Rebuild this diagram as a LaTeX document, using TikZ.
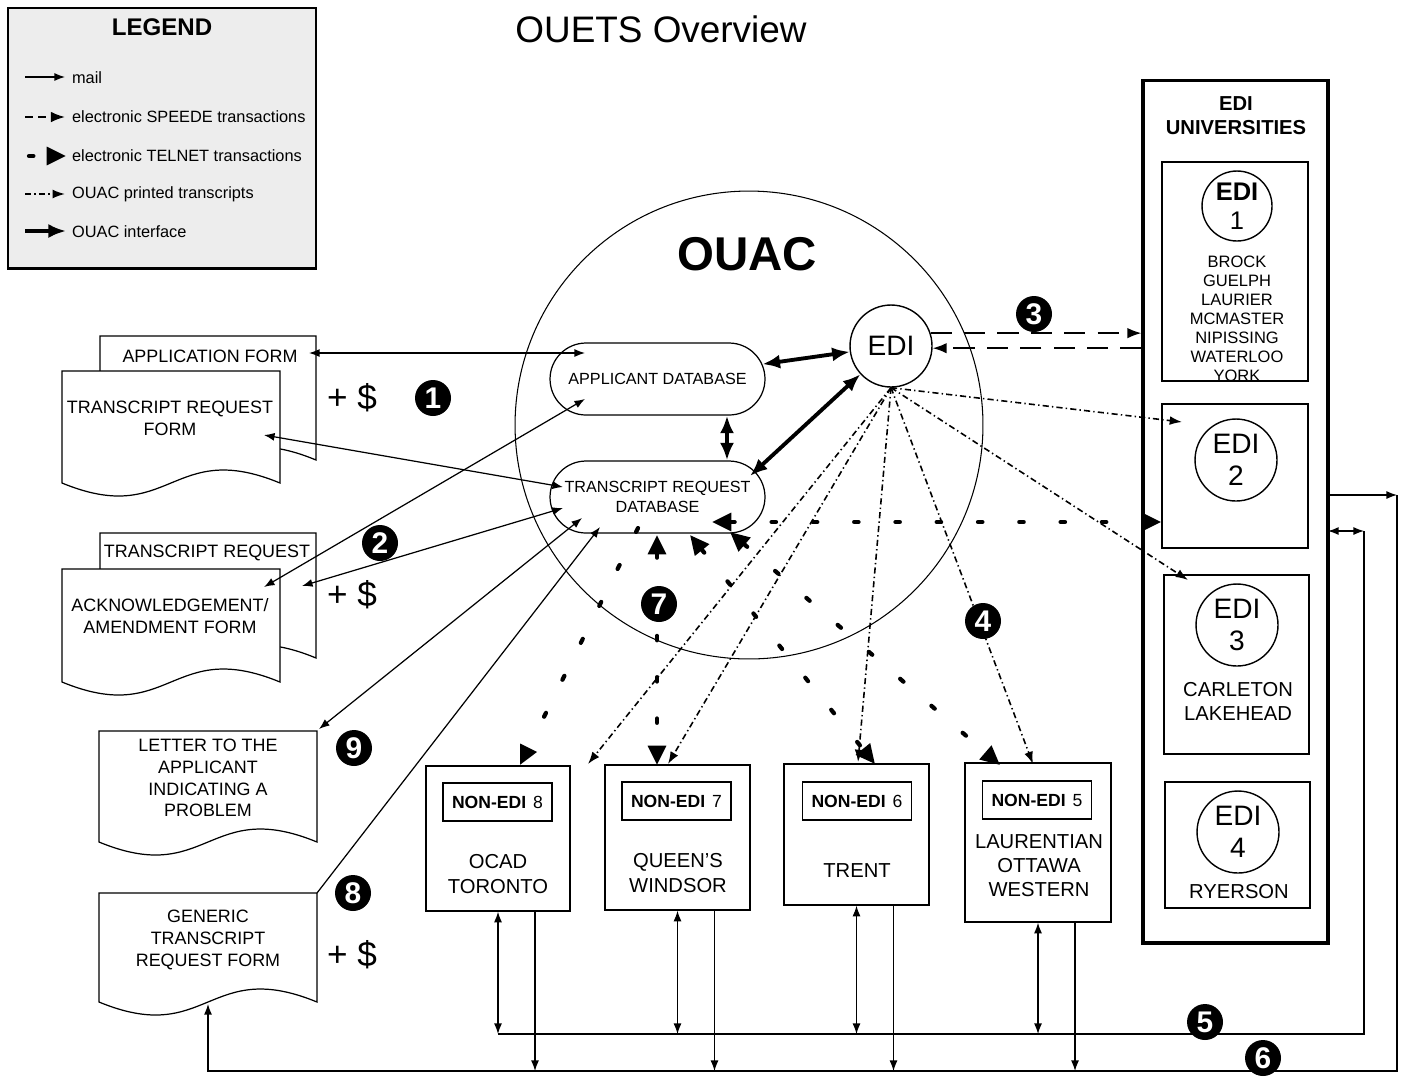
\documentclass[tikz,border=0pt]{standalone}
\usepackage{fontspec}
\setmainfont{Liberation Sans}
\usetikzlibrary{arrows.meta,shapes.misc}
\tikzset{>={Latex[length=6pt,width=4.5pt]}}
\tikzset{
  mail/.style={line width=0.7pt, >={Latex[length=6pt,width=4.5pt]}},
  speede/.style={line width=1pt, dash pattern=on 12pt off 7pt, >={Latex[length=8pt,width=6pt]}},
  telnet/.style={line width=2.4pt, line cap=round, dash pattern=on 2.5pt off 21pt, >={Triangle[length=11pt,width=10pt]}},
  printed/.style={line width=0.9pt, dash pattern=on 3.5pt off 1.8pt on 0.8pt off 1.8pt, >={Latex[length=7pt,width=5pt]}},
  iface/.style={line width=2.2pt, >={Latex[length=10pt,width=8pt]}},
  docpage/.style={draw=black, fill=white, line width=0.7pt},
  doctext/.style={font=\fontsize{10.2}{12.4}\selectfont, align=center},
  legtext/.style={anchor=west, inner sep=1pt, font=\fontsize{9.3}{11}\selectfont},
  db/.style={draw, rounded rectangle, minimum width=4.3cm, minimum height=1.44cm, inner sep=0pt,
    line width=0.7pt, fill=white, align=center, font=\fontsize{9.2}{11.4}\selectfont},
  unibox/.style={draw, line width=0.8pt, inner sep=0pt},
  educirc/.style={draw, circle, inner sep=0pt, line width=0.8pt, align=center, minimum size=1.64cm,
    font=\fontsize{16}{18}\selectfont},
  unitext/.style={align=center, font=\fontsize{11.5}{13.7}\selectfont},
  nebox/.style={draw, line width=0.8pt, inner sep=0pt},
  nelabel/.style={draw, line width=0.8pt, minimum width=2.18cm, minimum height=0.76cm, inner sep=0pt,
    font=\fontsize{10}{12}\selectfont},
  numcirc/.style={circle, fill=black, text=white, inner sep=0pt, minimum size=0.72cm,
    font=\bfseries\fontsize{17}{17}\selectfont},
  dollar/.style={font=\fontsize{20}{20}\selectfont}
}
% left, top, right, bottom of a page with a wavy foot
\newcommand{\docpage}[4]{%
  \filldraw[docpage] (#1,#2) -- (#3,#2) -- (#3,#4)
    .. controls ({(#1+#3)/2},{#4-45}) and ({(#1+#3)/2},{#4+45}) .. (#1,#4) -- cycle;}

\begin{document}
\begin{tikzpicture}[x=0.02cm, y=-0.02cm]
\useasboundingbox (0,0) rectangle (1408,1076);

% legend
\draw[line width=1.7pt, fill=black!7] (8,8) rectangle (316,268);
\node[font=\bfseries\fontsize{13.7}{16}\selectfont] (legend) at (162,27) {LEGEND};
\draw[mail,->] (25,77) -- (65,77);
\draw[speede,dash pattern=on 4.5pt off 3pt,->] (25,117) -- (65,117);
\draw[telnet,->] (29,156) -- (66,156);
\draw[printed,->] (25,194) -- (65,194);
\draw[iface,->] (25,231) -- (66,231);
\node[legtext] at (70,78) {mail};
\node[legtext] at (70,117) {electronic SPEEDE transactions};
\node[legtext] at (70,156) {electronic TELNET transactions};
\node[legtext] at (70,194) {OUAC printed transcripts};
\node[legtext] at (70,232) {OUAC interface};

\node[font=\fontsize{21}{24}\selectfont] (title) at (661,29) {OUETS Overview};

% OUAC
\node[draw, circle, line width=0.6pt, minimum size=9.36cm, inner sep=0pt] (ouac) at (749,425) {};
\node[font=\bfseries\fontsize{27}{30}\selectfont] (ouaclabel) at (747,254) {OUAC};
\node[db] (adb) at (657.5,379) {APPLICANT DATABASE};
\node[db] (trdb) at (657.5,497) {TRANSCRIPT REQUEST\\DATABASE};
\node[draw, circle, minimum size=1.64cm, inner sep=0pt, line width=0.8pt, fill=white,
  font=\fontsize{16}{16}\selectfont] (edi) at (891,346) {EDI};

% EDI universities
\node[draw, line width=1.8pt, minimum width=3.7cm, minimum height=17.26cm, inner sep=0pt] (ediuni) at (1235.5,511.5) {};
\node[font=\bfseries\fontsize{11.5}{13.7}\selectfont, align=center] (unititle) at (1236,116) {EDI\\UNIVERSITIES};
\node[unibox, minimum width=2.92cm, minimum height=4.38cm] (box1) at (1235,271.5) {};
\node[unibox, minimum width=2.92cm, minimum height=2.88cm] (box2) at (1235,476) {};
\node[unibox, minimum width=2.9cm, minimum height=3.58cm] (box3) at (1236.5,664.5) {};
\node[unibox, minimum width=2.9cm, minimum height=2.52cm] (box4) at (1237.5,845) {};
\node[educirc, minimum size=1.4cm, font=\fontsize{14.5}{16.5}\selectfont] (edi1) at (1237,206) {\textbf{EDI}\\1};
\node[educirc] (edi2) at (1236,460) {EDI\\2};
\node[educirc] (edi3) at (1237,625) {EDI\\3};
\node[educirc] (edi4) at (1238,832) {EDI\\4};
\begin{scope}
  \clip (box1.south west) rectangle (box1.north east);
  \node[align=center, font=\fontsize{9.4}{10.8}\selectfont] (list1) at (1237,319)
    {BROCK\\GUELPH\\LAURIER\\MCMASTER\\NIPISSING\\WATERLOO\\YORK};
\end{scope}
\node[unitext] (list3) at (1238,701) {CARLETON\\LAKEHEAD};
\node[unitext] (list4) at (1239,892) {RYERSON};

% non-EDI universities
\node[nebox, minimum width=2.88cm, minimum height=2.9cm] (ne8) at (498,838.5) {};
\node[nebox, minimum width=2.9cm, minimum height=2.9cm] (ne7) at (677.5,837.5) {};
\node[nebox, minimum width=2.9cm, minimum height=2.82cm] (ne6) at (856.5,834.5) {};
\node[nebox, minimum width=2.92cm, minimum height=3.18cm] (ne5) at (1038,842.5) {};
\node[nelabel] (ne8lbl) at (497.5,802) {\textbf{NON-EDI}\hspace{4pt}8};
\node[nelabel] (ne7lbl) at (676.5,801) {\textbf{NON-EDI}\hspace{4pt}7};
\node[nelabel] (ne6lbl) at (857,801) {\textbf{NON-EDI}\hspace{4pt}6};
\node[nelabel] (ne5lbl) at (1037,800) {\textbf{NON-EDI}\hspace{4pt}5};
\node[unitext] (ne8name) at (498,874) {OCAD\\TORONTO};
\node[unitext] (ne7name) at (678,873) {QUEEN'S\\WINDSOR};
\node[unitext] (ne6name) at (857,871) {TRENT};
\node[unitext] (ne5name) at (1039,866) {LAURENTIAN\\OTTAWA\\WESTERN};

% forms
\docpage{100}{336}{316}{460}
\docpage{62}{371}{280}{483}
\docpage{100}{533}{316}{658}
\docpage{62}{569}{280}{682}
\docpage{99}{731}{317}{842}
\docpage{99}{893}{317}{1002}
\node[doctext] (appform) at (210,356) {APPLICATION FORM};
\node[doctext] (trform) at (170,418) {TRANSCRIPT REQUEST\\FORM};
\node[doctext] (trreq) at (207,553) {TRANSCRIPT REQUEST};
\node[doctext] (ackform) at (170,616) {ACKNOWLEDGEMENT/\\AMENDMENT FORM};
\node[doctext] (letter) at (208,778) {LETTER TO THE\\APPLICANT\\INDICATING A\\PROBLEM};
\node[doctext] (generic) at (208,940) {GENERIC\\TRANSCRIPT\\REQUEST FORM};
\node[dollar] (dol1) at (352,398) {+ \$};
\node[dollar] (dol2) at (352,595) {+ \$};
\node[dollar] (dol3) at (352,955) {+ \$};

% connector ends
\coordinate (af-r) at (309,353);
\coordinate (trf-r) at (264,435);
\coordinate (ack-a) at (264,587);
\coordinate (ack-b) at (302,586);
\coordinate (let-c) at (319,729);
\coordinate (gen-c) at (317,893);
\coordinate (gen-b) at (208,1004);
\coordinate (adb-l1) at (585,353);
\coordinate (adb-l2) at (585,399);
\coordinate (trdb-l1) at (563,487);
\coordinate (trdb-l2) at (563,508);
\coordinate (trdb-l3) at (582,518);
\coordinate (trdb-l4) at (600,527);
\coordinate (trdb-e) at (750,476);

% mail
\draw[mail,<->] (af-r) -- (adb-l1);
\draw[mail,<->] (ack-a) -- (adb-l2);
\draw[mail,<->] (trf-r) -- (trdb-l1);
\draw[mail,<->] (ack-b) -- (trdb-l2);
\draw[mail,<->] (let-c) -- (trdb-l3);
\draw[mail,->] (gen-c) -- (trdb-l4);

% OUAC interface
\draw[iface,<->] (edi) -- (adb);
\draw[iface,<->] (edi) -- (trdb-e);
\draw[iface,<->] ([xshift=1.39cm]adb.south) -- ([xshift=1.39cm]trdb.north);

% SPEEDE
\draw[speede,->] (edi.18) -- (edi.18 -| ediuni.west);
\draw[speede,->] (edi.-3 -| ediuni.west) -- (edi.-3);

% printed transcripts
\coordinate (p8) at (588,764);
\coordinate (p7) at (668,764);
\coordinate (p6) at (858,762);
\coordinate (p5) at (1033,764);
\coordinate (p3) at (1188,580);
\coordinate (p2) at (1182,422);
\foreach \t in {p8,p7,p6,p5,p3,p2}
  \draw[printed,->] (edi.south) -- (\t);

% TELNET
\coordinate (t8a) at (638,528);
\coordinate (t8b) at (520,765);
\coordinate (t7a) at (657,535);
\coordinate (t7b) at (657,765);
\coordinate (t6a) at (690,535);
\coordinate (t6b) at (875,764);
\coordinate (t5a) at (730,532);
\coordinate (t5b) at (1000,765);
\coordinate (t2a) at (712,522);
\draw[telnet,->] (t8a) -- (t8b);
\draw[telnet,<->] (t7a) -- (t7b);
\draw[telnet,<->] (t6a) -- (t6b);
\draw[telnet,<->] (t5a) -- (t5b);
\draw[telnet,<->] (t2a) -- (t2a -| box2.west);

% return lines
\coordinate (u6) at (1328,495);
\coordinate (c6) at (1397,495);
\coordinate (bus6) at (1397,1071);
\coordinate (u5) at (1328,531);
\coordinate (c5) at (1364,531);
\coordinate (bus5) at (1364,1034);
\draw[mail,->] (u6) -- (c6);
\draw[mail,->] (c6) -- (bus6) -- (bus6 -| gen-b) -- (gen-b);
\draw[mail,<->] (u5) -- (c5);
\draw[mail] (c5) -- (bus5) -- (bus5 -| ne8.south);
\foreach \b in {8,7,6,5} {
  \draw[mail,<->] (ne\b.south) -- (ne\b.south |- bus5);
  \path (ne\b.south) ++(37,0) coordinate (d\b);
  \draw[mail,->] (d\b) -- (d\b |- bus6);
}

% step numbers
\node[numcirc] (n1) at (433,398) {1};
\node[numcirc] (n2) at (380,543) {2};
\node[numcirc] (n3) at (1034,314) {3};
\node[numcirc] (n4) at (983,621) {4};
\node[numcirc] (n5) at (1205,1022) {5};
\node[numcirc] (n6) at (1263,1058) {6};
\node[numcirc] (n7) at (659,604) {7};
\node[numcirc] (n8) at (353,893) {8};
\node[numcirc] (n9) at (354,748) {9};
\end{tikzpicture}
\end{document}
